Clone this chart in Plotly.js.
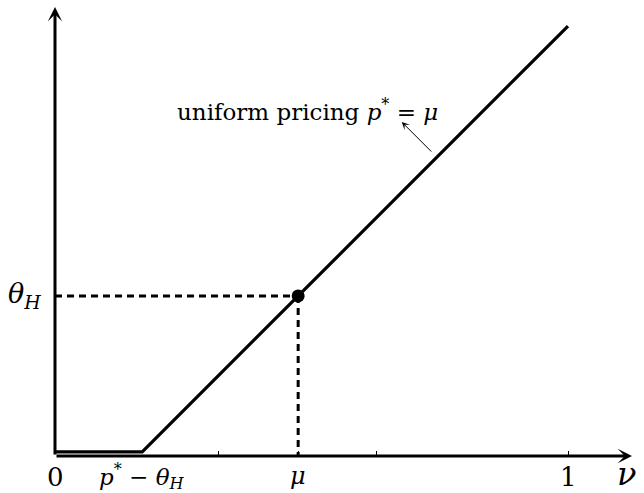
<!DOCTYPE html>
<html>
<head>
<meta charset="utf-8">
<script src="https://cdn.plot.ly/plotly-3.0.1.min.js"></script>
<style>
  html, body { margin: 0; padding: 0; background: #fff; }
  #MainGraphView { width: 644px; height: 493px; }
</style>
</head>
<body>
<div id="MainGraphView"></div>
<script>
// values (x and y share one scale, 0..1)
var kinkX = 0.17;          // p* - theta_H
var floorY = 0.008;        // flat part just above the axis
var mu = 0.474;
var thetaH = 0.312;
var lineX = [0, kinkX, 1];
var lineY = [floorY, floorY, 0.838];
var tickVals = [0.318, 0.474, 0.626, 1];
var xLabels = ['0', '<i>p</i><sup>*</sup> \u2212 <i>\u03b8</i><sub><i>H</i></sub>', '<i>\u03bc</i>', '1'];
var xLabelPos = [0, kinkX, mu, 1];

var font = '"DejaVu Serif", serif';

var pricing = {
    x: lineX,
    y: lineY,
    type: 'scatter',
    mode: 'lines',
    line: {color: 'black', width: 3.2},
    cliponaxis: false,
    hoverinfo: 'none'
};
var hDash = {
    x: [0, mu],
    y: [thetaH, thetaH],
    type: 'scatter',
    mode: 'lines',
    line: {color: 'black', width: 3, dash: '7px,5px'},
    cliponaxis: false,
    hoverinfo: 'none'
};
var vDash = {
    x: [mu, mu],
    y: [thetaH, 0],
    type: 'scatter',
    mode: 'lines',
    line: {color: 'black', width: 3, dash: '7px,5px'},
    cliponaxis: false,
    hoverinfo: 'none'
};
var point = {
    x: [mu],
    y: [thetaH],
    type: 'scatter',
    mode: 'markers',
    marker: {color: 'black', size: 13},
    cliponaxis: false,
    hoverinfo: 'none'
};

var annotations = [];
// axes drawn as arrows
annotations.push({xref: 'paper', yref: 'paper', x: 1, y: 0, ax: -577, ay: 0,
    showarrow: true, arrowhead: 3, arrowsize: 0.8, arrowwidth: 3, arrowcolor: 'black', text: ''});
annotations.push({xref: 'paper', yref: 'paper', x: 0, y: 1, ax: 0, ay: 449,
    showarrow: true, arrowhead: 3, arrowsize: 0.8, arrowwidth: 3, arrowcolor: 'black', text: ''});

var labelSizes = [26, 23, 24, 26];
var labelShift = [-21, -20, -20, -21];
for (var i = 0; i < xLabels.length; i++) {
    annotations.push({
        xref: 'x', yref: 'paper', x: xLabelPos[i], y: 0,
        text: xLabels[i], showarrow: false,
        xanchor: 'center', yanchor: 'middle', yshift: labelShift[i],
        font: {family: font, size: labelSizes[i], color: 'black'}
    });
}
annotations.push({
    xref: 'x', yref: 'paper', x: 1.114, y: 0, text: '<i>\u03bd</i>', showarrow: false,
    xanchor: 'center', yanchor: 'middle', yshift: -18,
    font: {family: font, size: 32, color: 'black'}
});
annotations.push({
    xref: 'paper', yref: 'y', x: -0.053, y: thetaH, text: '<i>\u03b8</i><sub><i>H</i></sub>',
    showarrow: false, xanchor: 'center', yanchor: 'middle',
    font: {family: font, size: 27, color: 'black'}
});
annotations.push({
    xref: 'x', yref: 'y', x: 0.493, y: 0.674,
    text: 'uniform pricing <i>p</i><sup>*</sup> = <i>\u03bc</i>', showarrow: false,
    xanchor: 'center', yanchor: 'middle',
    font: {family: font, size: 23, color: 'black'}
});
annotations.push({
    xref: 'x', yref: 'y', x: 0.676, y: 0.651, ax: 31, ay: 31, text: '',
    showarrow: true, arrowhead: 3, arrowsize: 1.3, arrowwidth: 1, arrowcolor: 'black'
});

var layout = {
    width: 644,
    height: 493,
    margin: {l: 55, r: 12, t: 7, b: 37},
    paper_bgcolor: 'white',
    plot_bgcolor: 'white',
    showlegend: false,
    xaxis: {
        range: [0, 577 / 513],
        showgrid: false, zeroline: false, showline: false,
        ticks: 'inside', ticklen: 5, tickwidth: 1, tickcolor: 'black',
        tickvals: tickVals, showticklabels: false, fixedrange: true
    },
    yaxis: {
        range: [0, 449 / 513],
        showgrid: false, zeroline: false, showline: false,
        ticks: '', showticklabels: false, fixedrange: true
    },
    annotations: annotations
};

Plotly.newPlot('MainGraphView', [pricing, hDash, vDash, point], layout, {displayModeBar: false, staticPlot: true});
</script>
</body>
</html>
